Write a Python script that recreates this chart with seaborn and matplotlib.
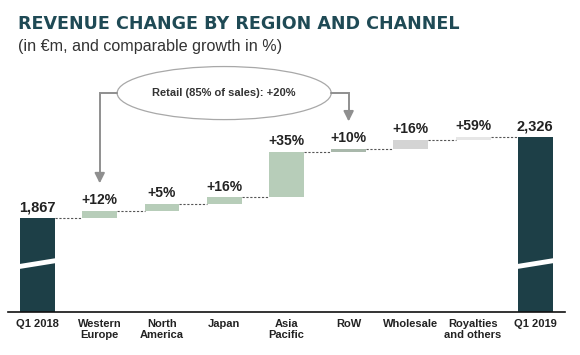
import matplotlib
matplotlib.use("Agg")
import matplotlib.pyplot as plt
from matplotlib.patches import Ellipse, Polygon
import seaborn as sns
import numpy as np
import pandas as pd

# ---- data ----
categories = ["Q1 2018", "Western\nEurope", "North\nAmerica", "Japan", "Asia\nPacific",
              "RoW", "Wholesale", "Royalties\nand others", "Q1 2019"]
start_total = 1867
end_total = 2326
increments = [45, 39, 35, 258, 15, 53, 14]
growth_labels = ["+12%", "+5%", "+16%", "+35%", "+10%", "+16%", "+59%"]
total_labels = ["1,867", "2,326"]
retail_note = "Retail (85% of sales): +20%"

# ---- derived waterfall geometry ----
cum = np.cumsum([start_total] + increments)
tops = [start_total] + list(cum[1:]) + [end_total]
bases = [0] + list(cum[:-1]) + [0]

colors = ["#1d3f47", "#b7cdb9", "#b7cdb9", "#b7cdb9", "#b7cdb9", "#a9b8ab",
          "#d4d4d4", "#e6e6e6", "#1d3f47"]

df = pd.DataFrame({"cat": categories, "top": tops, "base": bases})

sns.set_theme(style="white")
plt.rcParams["font.family"] = ["Liberation Sans", "DejaVu Sans"]

fig = plt.figure(figsize=(5.8, 3.55), dpi=100)
ax = fig.add_axes([0.0138, 0.121, 0.960, 0.710])

bw = 0.56
sns.barplot(data=df, x="cat", y="top", color="#1d3f47", width=bw, ax=ax,
            saturation=1, errorbar=None)
for p, c in zip(ax.patches, colors):
    p.set_facecolor(c)
    p.set_edgecolor("none")
# white mask for the floating bars' lower parts
n0 = len(ax.patches)
sns.barplot(data=df, x="cat", y="base", color="white", width=bw + 0.02, ax=ax,
            saturation=1, errorbar=None)
for p in ax.patches[n0:]:
    p.set_edgecolor("none")

ymin, ymax = 1338, 2763
ax.set_ylim(ymin, ymax)
ax.set_xlim(-0.474, 8.474)

# connectors
levels = list(cum)
for i, lv in enumerate(levels):
    ax.plot([i + bw / 2, i + 1 - bw / 2], [lv, lv], color="#555555", lw=0.8,
            ls=(0, (2, 1.5)), zorder=3)

# labels
for i, lab in enumerate(growth_labels):
    ax.text(i + 1, tops[i + 1] + 22, lab, ha="center", va="bottom",
            fontsize=10, fontweight="bold", color="#222222")
ax.text(0, tops[0] + 22, total_labels[0], ha="center", va="bottom",
        fontsize=10.5, fontweight="bold", color="#222222")
ax.text(8, tops[-1] + 22, total_labels[1], ha="center", va="bottom",
        fontsize=10.5, fontweight="bold", color="#222222")

# axis break marks on the total bars
for i in (0, 8):
    xl, xr = i - bw / 2 - 0.02, i + bw / 2 + 0.02
    poly = Polygon([[xl, 1581], [xr, 1615], [xr, 1643], [xl, 1609]],
                   closed=True, facecolor="white", edgecolor="none", zorder=4)
    ax.add_patch(poly)

# retail ellipse and arrows
ecx, ecy, ew, eh = 3.0, 2576, 3.44, 300
ax.add_patch(Ellipse((ecx, ecy), ew, eh, facecolor="white", edgecolor="#a8a8a8",
                     lw=0.9, zorder=5))
ax.text(ecx, ecy, retail_note, ha="center", va="center", fontsize=8,
        fontweight="bold", color="#333333", zorder=6)
arrow_col = "#8f8f8f"
ax.plot([ecx - ew / 2, 1.0, 1.0], [ecy, ecy, 2100], color=arrow_col, lw=1.4,
        zorder=5, solid_joinstyle="miter")
ax.annotate("", xy=(1.0, 2050), xytext=(1.0, 2110),
            arrowprops=dict(arrowstyle="-|>,head_width=0.25,head_length=0.5",
                            color=arrow_col, lw=1.4), zorder=5)
ax.plot([ecx + ew / 2, 5.0, 5.0], [ecy, ecy, 2450], color=arrow_col, lw=1.4,
        zorder=5, solid_joinstyle="miter")
ax.annotate("", xy=(5.0, 2400), xytext=(5.0, 2460),
            arrowprops=dict(arrowstyle="-|>,head_width=0.25,head_length=0.5",
                            color=arrow_col, lw=1.4), zorder=5)

# axes styling
for s in ("top", "right", "left"):
    ax.spines[s].set_visible(False)
ax.spines["bottom"].set_color("#111111")
ax.spines["bottom"].set_linewidth(1.2)
ax.set_yticks([])
ax.set_xlabel("")
ax.set_ylabel("")
ax.tick_params(axis="x", length=0, pad=5)
for t in ax.get_xticklabels():
    t.set_fontsize(8)
    t.set_fontweight("bold")
    t.set_color("#222222")
    t.set_linespacing(1.1)

# titles
fig.text(0.031, 0.931, "REVENUE CHANGE BY REGION AND CHANNEL", fontsize=12.6,
         fontweight="bold", color="#1f4a55", ha="left", va="center",
         family=["DejaVu Sans"])
fig.text(0.031, 0.868, "(in \u20acm, and comparable growth in %)", fontsize=11.6,
         color="#333333", ha="left", va="center")

fig.savefig("out.png", dpi=100)
